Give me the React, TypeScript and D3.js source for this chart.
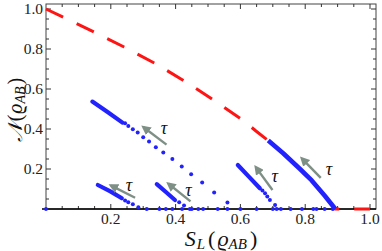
import React from 'react'
import * as d3 from 'd3'

// red dashed bound (x = S_L, y = N)
const boundX = [0, 0.148, 0.241, 0.34, 0.432, 0.522, 0.611, 0.648, 0.686, 0.732, 0.784, 0.82, 0.861, 0.893, 1.0]
const boundY = [1.0, 0.885, 0.81, 0.725, 0.635, 0.54, 0.44, 0.39, 0.342, 0.279, 0.195, 0.143, 0.065, 0, 0]

// dense (solid) parts of the blue trajectories
const denseA = [[0.143, 0.537], [0.19, 0.485], [0.236, 0.432]]
const denseB = [[0.16, 0.12], [0.2, 0.087], [0.234, 0.054]]
const denseC = [[0.342, 0.124], [0.37, 0.085], [0.398, 0.045]]
const denseD = [[0.592, 0.22], [0.626, 0.162], [0.66, 0.104]]
const denseE = [[0.686, 0.342], [0.732, 0.279], [0.784, 0.2], [0.82, 0.143], [0.861, 0.065], [0.893, 0]]

// sparse dots of the blue trajectories
const dotsA = [
  [0.244, 0.429], [0.254, 0.415], [0.268, 0.399], [0.283, 0.382], [0.3, 0.359], [0.318, 0.337],
  [0.339, 0.309], [0.362, 0.282], [0.39, 0.25], [0.419, 0.212], [0.448, 0.174], [0.482, 0.132],
  [0.519, 0.082], [0.56, 0.032], [0.6, 0]
]
const dotsB = [[0.244, 0.042], [0.254, 0.034], [0.268, 0.024], [0.285, 0.009], [0.311, 0]]
const dotsC = [[0.411, 0.034], [0.426, 0.017], [0.444, 0]]
const dotsD = [[0.668, 0.092], [0.676, 0.079], [0.683, 0.062], [0.691, 0.045], [0.707, 0.02], [0.712, 0]]
const axisDots = [0, 0.35, 0.37, 0.39, 0.42, 0.45, 0.47, 0.485, 0.53, 0.56, 0.65, 0.7, 0.725, 0.755, 0.79, 0.825, 0.835, 0.86, 0.885]

// tau arrows: tail, head, label position
const arrows = [
  {tail: [0.372, 0.322], head: [0.301, 0.409], label: [0.364, 0.4]},
  {tail: [0.275, 0.056], head: [0.201, 0.117], label: [0.256, 0.113]},
  {tail: [0.446, 0.038], head: [0.378, 0.126], label: [0.44, 0.09]},
  {tail: [0.699, 0.095], head: [0.648, 0.208], label: [0.706, 0.16]},
  {tail: [0.848, 0.156], head: [0.79, 0.252], label: [0.873, 0.197]}
]

const xTicks = [0.2, 0.4, 0.6, 0.8, 1.0]
const yTicks = [0.2, 0.4, 0.6, 0.8, 1.0]

const W = 382
const H = 251
const left = 46
const right = 376
const top = 4
const bottom = 209

const BLUE = '#2222ff'
const RED = '#ff1414'
const ARROW = '#7e8f86'
const serif = 'Liberation Serif'

const App = () => {
  const x = d3.scaleLinear().domain([0, 1.0185]).range([left, right])
  const y = d3.scaleLinear().domain([0, 1.025]).range([bottom, top])
  const line = d3
    .line<number[]>()
    .x((d) => x(d[0]))
    .y((d) => y(d[1]))
    .curve(d3.curveLinear)

  const bound = boundX.map((v, i) => [v, boundY[i]])
  const minorX = d3.range(0.05, 1.01, 0.05)
  const minorY = d3.range(0.05, 1.01, 0.05)
  const isMajor = (v: number) => Math.abs(v * 5 - Math.round(v * 5)) < 1e-6
  const txt = {fontFamily: serif}

  return (
    <svg width={W} height={H} style={{position: 'absolute', left: 0, top: 0}}>
      <defs>
        <marker id="head" viewBox="0 0 10 10" refX="7" refY="5" markerWidth="4" markerHeight="4" orient="auto">
          <path d="M0,0 L10,5 L0,10 z" fill={ARROW} />
        </marker>
      </defs>

      {/* frame and ticks */}
      <rect x={left} y={top} width={right - left} height={bottom - top} fill="none" stroke="#444" strokeWidth={1} />
      {minorX.map((v, i) => {
        const len = isMajor(v) ? 5 : 3
        return (
          <g key={'xt' + i} stroke="#333" strokeWidth={1}>
            <line x1={x(v)} x2={x(v)} y1={bottom} y2={bottom - len} />
            <line x1={x(v)} x2={x(v)} y1={top} y2={top + len} />
          </g>
        )
      })}
      {minorY.map((v, i) => {
        const len = isMajor(v) ? 5 : 3
        return (
          <g key={'yt' + i} stroke="#333" strokeWidth={1}>
            <line x1={left} x2={left + len} y1={y(v)} y2={y(v)} />
            <line x1={right} x2={right - len} y1={y(v)} y2={y(v)} />
          </g>
        )
      })}
      <line x1={left - 4} x2={right} y1={y(0)} y2={y(0)} stroke="#000" strokeWidth={1.4} />

      {xTicks.map((v) => (
        <text key={'xl' + v} x={x(v)} y={223.5} textAnchor="middle" style={txt} fontSize={15.5} fill="#222">
          {v.toFixed(1)}
        </text>
      ))}
      {yTicks.map((v) => (
        <text key={'yl' + v} x={43} y={y(v) + 5} textAnchor="end" style={txt} fontSize={15.5} fill="#222">
          {v.toFixed(1)}
        </text>
      ))}

      {/* red dashed curve */}
      <path d={line(bound) || ''} fill="none" stroke={RED} strokeWidth={3} strokeDasharray="19 15" />

      {/* blue trajectories */}
      {[denseA, denseB, denseC, denseD].map((d, i) => (
        <path key={'dn' + i} d={line(d) || ''} fill="none" stroke={BLUE} strokeWidth={4.2} strokeLinecap="round" />
      ))}
      <path d={line(denseE) || ''} fill="none" stroke={BLUE} strokeWidth={4.6} strokeLinejoin="round" />
      {[...dotsA, ...dotsB, ...dotsC, ...dotsD].map((d, i) => (
        <circle key={'dt' + i} cx={x(d[0])} cy={y(d[1])} r={2} fill={BLUE} />
      ))}
      {axisDots.map((v, i) => (
        <circle key={'ad' + i} cx={x(v)} cy={y(0)} r={1.9} fill={BLUE} />
      ))}

      {/* tau arrows */}
      {arrows.map((a, i) => (
        <g key={'ar' + i}>
          <line
            x1={x(a.tail[0])}
            y1={y(a.tail[1])}
            x2={x(a.head[0])}
            y2={y(a.head[1])}
            stroke={ARROW}
            strokeWidth={2.4}
            markerEnd="url(#head)"
          />
          <text x={x(a.label[0])} y={y(a.label[1]) + 5} textAnchor="middle" style={txt} fontStyle="italic" fontSize={18} fill="#111">
            τ
          </text>
        </g>
      ))}

      {/* axis titles */}
      <text x={221} y={246} textAnchor="middle" style={txt} fontStyle="italic" fontSize={22} fill="#111">
        S<tspan fontSize={15} dy={3} dx={1}>L</tspan>
        <tspan dy={-3} dx={3} fontStyle="normal">(</tspan>
        <tspan dx={2}>ϱ</tspan>
        <tspan fontSize={15} dy={3}>AB</tspan>
        <tspan dy={-3} dx={3} fontStyle="normal">)</tspan>
      </text>
      <text transform="translate(22,110) rotate(-90)" textAnchor="middle" style={txt} fontStyle="italic" fontSize={20} fill="#111">
        𝒩<tspan dx={2} fontStyle="normal">(</tspan>
        <tspan dx={1}>ϱ</tspan>
        <tspan fontSize={14} dy={3}>AB</tspan>
        <tspan dy={-3} dx={2} fontStyle="normal">)</tspan>
      </text>
    </svg>
  )
}

export default App
